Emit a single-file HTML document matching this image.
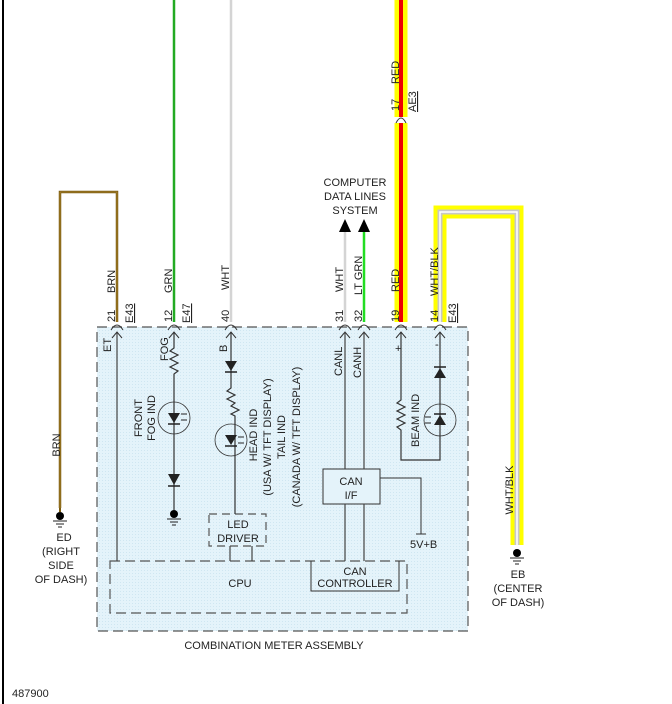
<!DOCTYPE html>
<html><head><meta charset="utf-8"><style>
html,body{margin:0;padding:0;background:#fff}
svg{display:block}
text{font-family:"Liberation Sans",Arial,sans-serif;font-size:11px;fill:#222}
</style></head><body>
<svg width="672" height="704" viewBox="0 0 672 704" xmlns="http://www.w3.org/2000/svg">
<defs>
<pattern id="dots" width="3" height="3" patternUnits="userSpaceOnUse"><rect width="3" height="3" fill="#e4f3fa"/><rect width="1" height="1" fill="#cfe6f1"/></pattern>
</defs>
<line x1="3" y1="0" x2="3" y2="704" stroke="#000" stroke-width="2"/>

<rect x="97" y="327" width="371" height="304" fill="url(#dots)" stroke="#555" stroke-width="1.2" stroke-dasharray="10,5"/>
<rect x="110" y="561" width="297" height="52" fill="none" stroke="#555" stroke-width="1.2" stroke-dasharray="10,5"/>
<rect x="209" y="514" width="57" height="32" fill="none" stroke="#555" stroke-width="1.2" stroke-dasharray="8,5"/>
<path d="M311 561 V591 H399 V561" fill="none" stroke="#333" stroke-width="1"/>
<rect x="323" y="469" width="57" height="35" fill="#e4f3fa" stroke="#333" stroke-width="1"/>
<text x="351" y="485" text-anchor="middle">CAN</text>
<text x="351" y="499" text-anchor="middle">I/F</text>
<text x="355" y="575" text-anchor="middle">CAN</text>
<text x="355" y="587" text-anchor="middle">CONTROLLER</text>
<text x="240" y="587" text-anchor="middle">CPU</text>
<text x="238" y="528" text-anchor="middle">LED</text>
<text x="238" y="542" text-anchor="middle">DRIVER</text>
<text x="274" y="649" text-anchor="middle">COMBINATION METER ASSEMBLY</text>
<text x="12" y="697">487900</text>

<path d="M380 478 H421 V534" fill="none" stroke="#333"/>
<line x1="416" y1="534" x2="426" y2="534" stroke="#333"/>
<text x="410" y="548">5V+B</text>

<path d="M60 508 V192 H117 V322" fill="none" stroke="#7a5a10" stroke-width="2.5"/>
<path d="M60 508 V192 H117 V322" fill="none" stroke="#b08a30" stroke-width="0.8"/>
<line x1="117" y1="332" x2="117" y2="561" stroke="#444" stroke-width="1.2"/>
<line x1="174" y1="0" x2="174" y2="322" stroke="#22aa22" stroke-width="2.5"/>
<line x1="231" y1="0" x2="231" y2="322" stroke="#d4d4d4" stroke-width="2.5"/>
<line x1="345" y1="232" x2="345" y2="322" stroke="#d4d4d4" stroke-width="2.5"/>
<line x1="364" y1="232" x2="364" y2="322" stroke="#22dd22" stroke-width="2.5"/>
<polygon points="339,232 351,232 345,219" fill="#000"/>
<polygon points="358,232 370,232 364,219" fill="#000"/>
<text x="355" y="186" text-anchor="middle">COMPUTER</text>
<text x="355" y="200" text-anchor="middle">DATA LINES</text>
<text x="355" y="214" text-anchor="middle">SYSTEM</text>

<line x1="401" y1="0" x2="401" y2="117" stroke="#ffff00" stroke-width="13"/>
<line x1="401" y1="0" x2="401" y2="117" stroke="#ee0000" stroke-width="4"/>
<line x1="401" y1="123" x2="401" y2="322" stroke="#ffff00" stroke-width="13"/>
<line x1="401" y1="123" x2="401" y2="322" stroke="#ee0000" stroke-width="4"/>
<path d="M396 123 Q401 113 406 123" fill="none" stroke="#333"/>
<path d="M440 322 V212 H517 V545" fill="none" stroke="#ffff00" stroke-width="13"/>
<path d="M440 322 V212 H517 V545" fill="none" stroke="#c8c8c8" stroke-width="5"/>
<path d="M440 322 V212 H517 V545" fill="none" stroke="#fff" stroke-width="1.5"/>

<g fill="none" stroke="#333" stroke-width="1">
<path d="M111 330 Q117 320 123 330"/><path d="M168 330 Q174 320 180 330"/><path d="M225 330 Q231 320 237 330"/>
<path d="M339 330 Q345 320 351 330"/><path d="M358 330 Q364 320 370 330"/><path d="M395 330 Q401 320 407 330"/><path d="M434 330 Q440 320 446 330"/>
</g>
<g fill="none" stroke="#333" stroke-width="1">
<path d="M112 338 L117 332 L122 338"/><path d="M169 338 L174 332 L179 338"/><path d="M226 338 L231 332 L236 338"/>
<path d="M340 338 L345 332 L350 338"/><path d="M359 338 L364 332 L369 338"/><path d="M396 338 L401 332 L406 338"/><path d="M435 338 L440 332 L445 338"/>
</g>

<g stroke="#333" stroke-width="1.2" fill="none">
<path d="M174 332 V348 l-4 3 l8 4 l-8 4 l8 4 l-8 4 l8 4 l-4 3 V510"/>
<circle cx="174" cy="418" r="16" stroke-width="0.8"/>
</g>
<polygon points="168,413 180,413 174,423" fill="#222"/><line x1="168" y1="424" x2="180" y2="424" stroke="#222" stroke-width="1.5"/>
<path d="M181 414 h6 M181 420 h6" stroke="#222" stroke-width="1"/>
<polygon points="168,474 180,474 174,485" fill="#222"/><line x1="168" y1="486" x2="180" y2="486" stroke="#222" stroke-width="1.5"/>
<circle cx="174" cy="514" r="4" fill="#000"/>
<path d="M167 519 h14 M170 522 h8 M172 525 h4" stroke="#222"/>

<g stroke="#333" stroke-width="1.2" fill="none">
<path d="M231 332 V388 l-4 3 l8 4 l-8 4 l8 4 l-4 3 l8 4 l-8 4 l4 2 V514"/>
<circle cx="231" cy="440" r="16" stroke-width="0.8"/>
</g>
<polygon points="225,361 237,361 231,371" fill="#222"/><line x1="225" y1="372" x2="237" y2="372" stroke="#222" stroke-width="1.5"/>
<polygon points="225,435 237,435 231,445" fill="#222"/><line x1="225" y1="446" x2="237" y2="446" stroke="#222" stroke-width="1.5"/>
<path d="M238 437 h6 M238 443 h6" stroke="#222"/>
<path d="M230 546 V561 M252 546 V561" stroke="#444" stroke-width="1.2"/>

<path d="M345 332 V469 M364 332 V469 M345 504 V561 M364 504 V561" stroke="#444" stroke-width="1.2"/>

<g stroke="#333" stroke-width="1.2" fill="none">
<path d="M401 332 V400 l-4 3 l8 4 l-8 4 l8 4 l-8 4 l8 4 l-8 4 l4 3 V460 H440 V332"/>
<circle cx="440" cy="420" r="16" stroke-width="0.8"/>
</g>
<polygon points="434,378 446,378 440,368" fill="#222"/><line x1="434" y1="367" x2="446" y2="367" stroke="#222" stroke-width="1.5"/>
<polygon points="434,425 446,425 440,415" fill="#222"/><line x1="434" y1="414" x2="446" y2="414" stroke="#222" stroke-width="1.5"/>
<path d="M425 417 h6 M425 423 h6" stroke="#222"/>

<path d="M60 508 V512" stroke="#7a5a10" stroke-width="2"/>
<circle cx="60" cy="516" r="4" fill="#000"/><path d="M53 521 h14 M56 524 h8 M58 527 h4" stroke="#222"/>
<circle cx="517" cy="553" r="4" fill="#000"/><path d="M510 558 h14 M513 561 h8 M515 564 h4" stroke="#222"/>

<text x="64" y="541" text-anchor="middle">ED</text>
<text x="61" y="555" text-anchor="middle">(RIGHT</text>
<text x="61" y="569" text-anchor="middle">SIDE</text>
<text x="61" y="583" text-anchor="middle">OF DASH)</text>
<text x="518" y="578" text-anchor="middle">EB</text>
<text x="518" y="592" text-anchor="middle">(CENTER</text>
<text x="518" y="606" text-anchor="middle">OF DASH)</text>

<g>
<text transform="translate(60,445) rotate(-90)" text-anchor="middle">BRN</text>
<text transform="translate(513,490) rotate(-90)" text-anchor="middle">WHT/BLK</text>
<text transform="translate(115,322) rotate(-90)">21</text>
<text transform="translate(115,293) rotate(-90)">BRN</text>
<text transform="translate(133,323) rotate(-90)" text-decoration="underline">E43</text>
<text transform="translate(172,322) rotate(-90)">12</text>
<text transform="translate(172,293) rotate(-90)">GRN</text>
<text transform="translate(190,323) rotate(-90)" text-decoration="underline">E47</text>
<text transform="translate(229,322) rotate(-90)">40</text>
<text transform="translate(229,290) rotate(-90)">WHT</text>
<text transform="translate(343,322) rotate(-90)">31</text>
<text transform="translate(343,292) rotate(-90)">WHT</text>
<text transform="translate(362,322) rotate(-90)">32</text>
<text transform="translate(362,295) rotate(-90)">LT GRN</text>
<text transform="translate(399,322) rotate(-90)">19</text>
<text transform="translate(399,292) rotate(-90)">RED</text>
<text transform="translate(438,322) rotate(-90)">14</text>
<text transform="translate(438,296) rotate(-90)">WHT/BLK</text>
<text transform="translate(456,323) rotate(-90)" text-decoration="underline">E43</text>
<text transform="translate(399,111) rotate(-90)">17</text>
<text transform="translate(399,84) rotate(-90)">RED</text>
<text transform="translate(416,112) rotate(-90)" text-decoration="underline">AE3</text>
<text transform="translate(111,352) rotate(-90)">ET</text>
<text transform="translate(168,361) rotate(-90)">FOG</text>
<text transform="translate(227,352) rotate(-90)">B</text>
<text transform="translate(142,418) rotate(-90)" text-anchor="middle">FRONT</text>
<text transform="translate(155,418) rotate(-90)" text-anchor="middle">FOG IND</text>
<text transform="translate(257,435) rotate(-90)" text-anchor="middle">HEAD IND</text>
<text transform="translate(271,437) rotate(-90)" text-anchor="middle">(USA W/ TFT DISPLAY)</text>
<text transform="translate(285,437) rotate(-90)" text-anchor="middle">TAIL IND</text>
<text transform="translate(300,437) rotate(-90)" text-anchor="middle">(CANADA W/ TFT DISPLAY)</text>
<text transform="translate(342,376) rotate(-90)">CANL</text>
<text transform="translate(361,378) rotate(-90)">CANH</text>
<text transform="translate(419,447) rotate(-90)">BEAM IND</text>
<text x="395" y="352">+</text>
<text x="435" y="348">-</text>
</g>
</svg>
</body></html>
